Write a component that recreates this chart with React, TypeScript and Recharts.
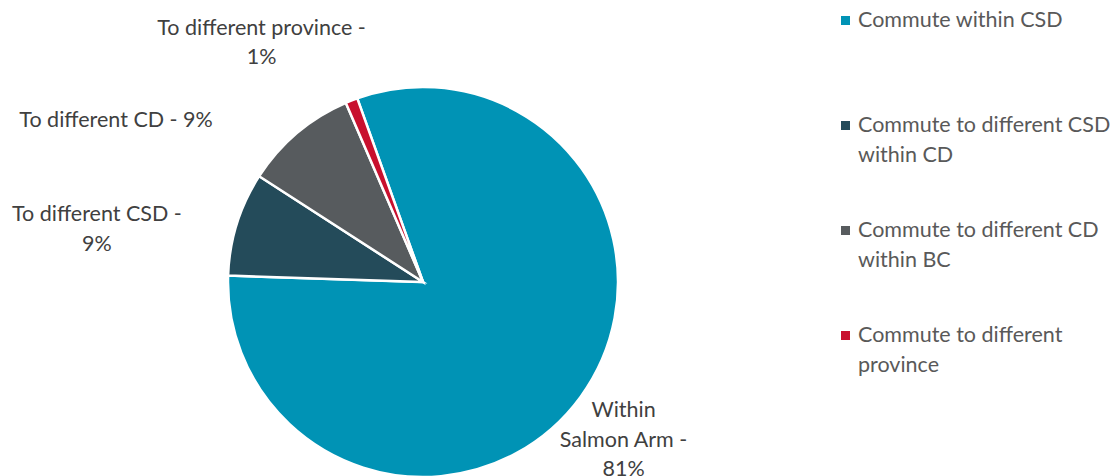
import { PieChart, Pie, Cell, Legend } from "recharts";

const categories = [
  "Commute within CSD",
  "Commute to different CSD within CD",
  "Commute to different CD within BC",
  "Commute to different province",
];
const labelNames = ["Within Salmon Arm", "To different CSD", "To different CD", "To different province"];
const shares = [81.0, 8.6, 9.4, 1.0];

const colors = ["#0093b5", "#244b5a", "#575b5e", "#c8102e"];
// per-slice label placement (offset from the rim point at midAngle, wrap width in chars)
const labelLayout = [
  { dx: 43, dy: 42, wrap: 12 },
  { dx: -140, dy: 4, wrap: 18 },
  { dx: -181, dy: -14, wrap: 20 },
  { dx: -90, dy: -59, wrap: 23 },
];

const data = categories.map((name, i) => ({ name, value: shares[i], short: labelNames[i] }));
const total = shares.reduce((a, b) => a + b, 0);
const RAD = Math.PI / 180;
const FONT = "Lato, 'Open Sans', sans-serif";
const FS = 21.5;

function wrapWords(text: string, max: number) {
  const lines: string[] = [];
  let cur = "";
  for (const w of text.split(" ")) {
    const next = cur ? cur + " " + w : w;
    if (next.length > max && cur) {
      lines.push(cur);
      cur = w;
    } else cur = next;
  }
  if (cur) lines.push(cur);
  return lines;
}

const renderLabel = (props: any) => {
  const { cx, cy, midAngle, outerRadius, index, value } = props;
  const lay = labelLayout[index];
  const x = cx + outerRadius * Math.cos(-midAngle * RAD) + lay.dx;
  const y = cy + outerRadius * Math.sin(-midAngle * RAD) + lay.dy;
  const pct = Math.round((value / total) * 100);
  const lines = wrapWords(`${labelNames[index]} - ${pct}%`, lay.wrap);
  const lh = 29.5;
  const y0 = y - ((lines.length - 1) * lh) / 2;
  return (
    <text x={x} y={y0} textAnchor="middle" dominantBaseline="central" fill="#404040" fontSize={FS} fontFamily={FONT}>
      {lines.map((l, i) => (
        <tspan key={i} x={x} y={y0 + i * lh} dominantBaseline="central">
          {l}
        </tspan>
      ))}
    </text>
  );
};

const renderLegend = () => (
  <div style={{ fontFamily: FONT, fontSize: FS, color: "#595959", lineHeight: "29.5px" }}>
    {categories.map((c, i) => (
      <div key={c} style={{ display: "flex", alignItems: "flex-start", height: 105 }}>
        <span
          style={{
            display: "inline-block",
            width: 9,
            height: 9,
            background: colors[i],
            marginTop: 11,
            marginRight: 8,
            flexShrink: 0,
          }}
        />
        <span style={{ width: 262 }}>{c}</span>
      </div>
    ))}
  </div>
);

export default function App() {
  return (
    <div style={{ position: "absolute", left: 0, top: 0, width: 1118, height: 476, background: "#fff" }}>
      <PieChart width={1118} height={476} margin={{ top: 0, right: 0, bottom: 0, left: 0 }}>
        <Pie
          data={data}
          dataKey="value"
          nameKey="name"
          cx={423}
          cy={282}
          outerRadius={195}
          startAngle={109.7}
          endAngle={109.7 - 360}
          stroke="#ffffff"
          strokeWidth={2.5}
          label={renderLabel}
          labelLine={false}
          isAnimationActive={false}
        >
          {data.map((d, i) => (
            <Cell key={d.name} fill={colors[i]} />
          ))}
        </Pie>
        <Legend
          layout="vertical"
          align="right"
          verticalAlign="top"
          content={renderLegend}
          wrapperStyle={{ left: 841, top: 5, width: 277 }}
        />
      </PieChart>
    </div>
  );
}
